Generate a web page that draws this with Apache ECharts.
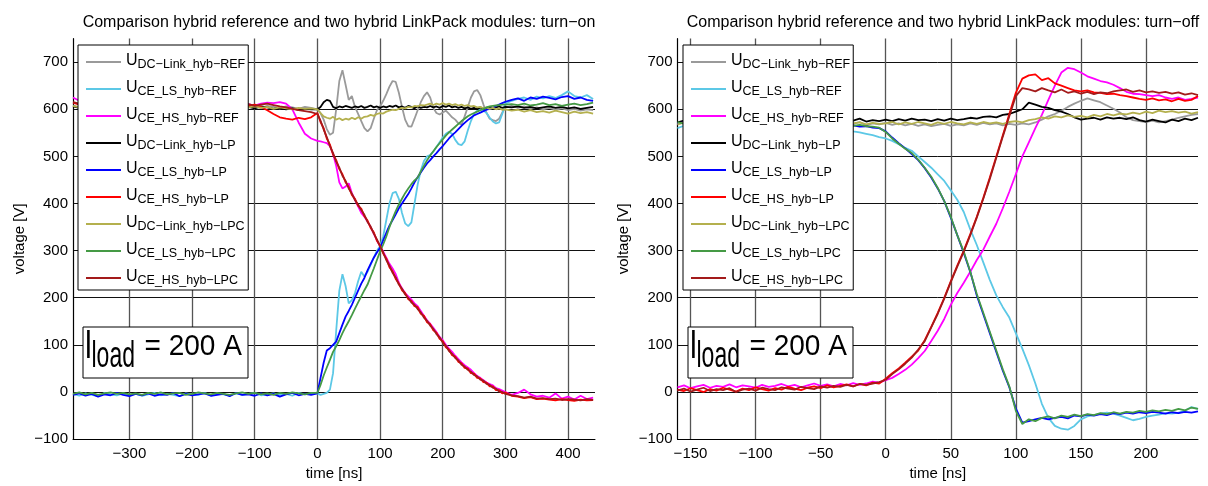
<!DOCTYPE html>
<html>
<head>
<meta charset="utf-8">
<title>turn-on / turn-off comparison</title>
<script src="https://cdn.jsdelivr.net/npm/echarts@6/dist/echarts.min.js"></script>
<style>
  html, body { margin: 0; padding: 0; background: #fff; }
  #main { width: 1208px; height: 486px; }
</style>
</head>
<body>
<div id="main"></div>
<script>
// legend names (shown as subscript of U)
const seriesNames = ['DC−Link_hyb−REF', 'CE_LS_hyb−REF', 'CE_HS_hyb−REF', 'DC−Link_hyb−LP', 'CE_LS_hyb−LP',
  'CE_HS_hyb−LP', 'DC−Link_hyb−LPC', 'CE_LS_hyb−LPC', 'CE_HS_hyb−LPC']
const seriesColors = ['#9a9a9a', '#5cc8e6', '#ff00ff', '#000000', '#0000ff', '#ff0000', '#b4b04e', '#459a45', '#a31a1a']

// ---- turn-on (left) ----
const timeOn = [-390, -380, -370, -360, -350, -340, -330, -320, -310, -300, -290, -280, -270, -260, -250, -240, -230, -220, -210, -200,
  -190, -180, -170, -160, -150, -140, -130, -120, -110, -100, -90, -80, -70, -60, -50, -40, -30, -20, -10,
  0, 5, 10, 15, 20, 25, 30, 35, 40, 45, 50, 55, 60, 65, 70, 75, 80, 85, 90, 95, 100, 105, 110, 115, 120, 125, 130, 135, 140, 145,
  150, 155, 160, 165, 170, 175, 180, 185, 190, 195, 200, 205, 210, 215, 220, 225, 230, 235, 240, 245, 250, 255, 260, 265, 270, 275,
  280, 285, 290, 295, 300, 310, 320, 330, 340, 350, 360, 370, 380, 390, 400, 410, 420, 430, 440]
const dcRefOn = [608, 604, 607, 603, 609, 605, 606, 602, 608, 604, 607, 605, 603, 608, 606, 604, 609, 605, 603, 607,
  606, 604, 608, 605, 607, 603, 606, 609, 604, 606, 603, 607, 605, 602, 606, 604, 601, 605, 603,
  600, 592, 578, 558, 546, 550, 600, 660, 683, 652, 620, 628, 605, 590, 575, 560, 553, 560, 580, 598,
  606, 618, 632, 648, 660, 658, 635, 605, 578, 564, 563, 580, 598, 615, 628, 636, 625, 603, 592, 589,
  593, 597, 590, 583, 578, 570, 568, 585, 605, 625, 638, 641, 630, 610, 592, 580, 577, 575, 580, 593, 604,
  607, 603, 606, 601, 604, 600, 603, 599, 602, 598, 601, 597, 600, 598]
const lsRefOn = [-4, -8, -3, -6, -9, -2, -5, -7, -3, -6, -4, -8, -5, -2, -7, -4, -6, -9, -3, -5,
  -6, -2, -8, -4, -5, -7, -3, -6, -4, -2, -7, -5, -3, -6, -4, -8, -2, -5, -3,
  -3, -6, -4, -2, 5, 40, 130, 215, 250, 225, 188, 195, 210, 235, 255, 245, 255, 270, 285, 300,
  310, 330, 365, 400, 422, 425, 410, 380, 358, 352, 360, 400, 440, 470, 490, 500, 503, 510, 520, 530,
  540, 548, 552, 548, 535, 526, 524, 532, 555, 575, 590, 597, 600, 598, 592, 582, 574, 570, 572, 590, 612,
  618, 622, 625, 620, 627, 623, 628, 624, 630, 638, 628, 625, 630, 622]
const hsRefOn = [625, 618, 614, 617, 612, 615, 610, 614, 611, 608, 613, 609, 612, 607, 611, 608, 613, 609, 606, 611,
  608, 612, 607, 610, 606, 609, 612, 607, 611, 608, 612, 614, 613, 615, 612, 600, 572, 548, 538,
  533, 532, 530, 528, 522, 505, 480, 445, 432, 436, 443, 422, 408, 394, 380, 372, 362, 350, 336, 322,
  309, 298, 285, 272, 262, 250, 232, 220, 210, 203, 196, 188, 182, 172, 162, 152, 145, 136, 127, 117,
  110, 100, 92, 85, 77, 70, 63, 57, 52, 47, 40, 34, 30, 25, 20, 17, 14, 8, 6, 3, 0,
  -6, -2, 5, -5, -10, -8, -12, -3, -14, -10, -16, -8, -15, -12]
const dcLpOn = [606, 603, 607, 604, 608, 605, 602, 606, 604, 607, 603, 605, 608, 604, 606, 602, 605, 607, 603, 606,
  604, 608, 605, 603, 606, 604, 607, 603, 605, 602, 606, 604, 601, 603, 600, 602, 599, 601, 600,
  600, 605, 615, 620, 618, 605, 602, 606, 604, 607, 605, 603, 606, 604, 607, 603, 605, 608, 604, 606,
  603, 606, 604, 607, 605, 608, 604, 606, 603, 607, 605, 602, 606, 603, 605, 604, 607, 604, 606, 603,
  607, 605, 608, 604, 606, 603, 605, 602, 604, 601, 603, 600, 604, 601, 603, 605, 602, 604, 606, 603, 605,
  604, 606, 603, 605, 602, 604, 606, 603, 605, 602, 604, 601, 603, 605]
const lsLpOn = [-6, -3, -8, -4, -10, -5, -7, -2, -6, -9, -4, -7, -3, -8, -5, -6, -2, -9, -4, -7,
  -5, -3, -8, -6, -4, -9, -2, -6, -5, -8, -3, -7, -4, -10, -5, -2, -7, -4, -6,
  -3, 30, 62, 88, 93, 100, 107, 125, 143, 160, 172, 185, 200, 215, 230, 242, 258, 272, 285, 296,
  306, 322, 338, 353, 365, 377, 390, 400, 410, 420, 432, 445, 456, 466, 476, 485, 492, 500, 507, 515,
  522, 530, 538, 545, 551, 558, 565, 571, 577, 582, 587, 590, 593, 596, 599, 601, 603, 607, 610, 613, 616,
  620, 623, 618, 625, 622, 627, 624, 621, 626, 628, 622, 625, 620, 618]
const hsLpOn = [614, 610, 613, 609, 612, 608, 611, 607, 610, 606, 609, 612, 607, 610, 606, 609, 611, 607, 610, 606,
  609, 612, 607, 610, 608, 611, 606, 609, 607, 610, 605, 598, 590, 583, 580, 578, 582, 579, 583,
  592, 573, 560, 538, 525, 504, 492, 473, 462, 445, 435, 418, 410, 395, 389, 373, 364, 348, 339, 321,
  311, 294, 283, 265, 256, 240, 230, 216, 210, 197, 193, 182, 180, 166, 162, 148, 144, 131, 126, 113,
  108, 95, 90, 78, 75, 64, 61, 51, 50, 40, 39, 30, 29, 21, 20, 12, 12, 4, 4, -3, -1,
  -8, -10, -13, -11, -15, -14, -16, -18, -15, -17, -19, -16, -18, -17]
const dcLpcOn = [607, 604, 608, 605, 603, 607, 604, 606, 602, 605, 608, 604, 606, 603, 607, 605, 602, 606, 604, 608,
  605, 603, 606, 604, 607, 603, 605, 608, 604, 606, 603, 605, 601, 604, 602, 600, 603, 601, 602,
  600, 592, 585, 582, 580, 584, 578, 581, 577, 580, 578, 582, 579, 583, 580, 584, 585, 588, 586, 590,
  592, 591, 595, 597, 599, 598, 601, 603, 602, 605, 604, 607, 606, 609, 608, 610, 612, 609, 612, 610,
  613, 610, 612, 609, 611, 608, 610, 607, 609, 606, 607, 604, 605, 602, 604, 601, 603, 600, 602, 599, 600,
  597, 599, 595, 598, 594, 596, 593, 597, 594, 591, 595, 592, 594, 591]
const lsLpcOn = [-4, -1, -5, -2, -6, -3, -1, -4, -2, -5, -3, -6, -2, -4, -1, -5, -3, -2, -6, -4,
  -1, -3, -5, -2, -4, -6, -3, -1, -4, -2, -5, -3, -6, -2, -4, -1, -3, -5, -2,
  -2, 15, 35, 52, 68, 85, 97, 110, 125, 138, 150, 163, 177, 190, 203, 216, 228, 245, 262, 280,
  298, 313, 330, 350, 368, 384, 398, 410, 422, 432, 441, 449, 455, 468, 480, 492, 502, 511, 520, 528,
  536, 544, 551, 557, 563, 569, 575, 580, 585, 589, 592, 595, 598, 601, 604, 606, 607, 608, 609, 610, 610,
  611, 609, 612, 608, 610, 613, 609, 611, 607, 610, 612, 609, 611, 614]
const hsLpcOn = [615, 612, 616, 611, 614, 610, 613, 609, 612, 608, 611, 607, 612, 608, 610, 606, 611, 607, 609, 612,
  608, 610, 606, 609, 612, 607, 610, 608, 611, 607, 610, 612, 609, 606, 604, 601, 598, 596, 594,
  590, 576, 557, 541, 522, 507, 489, 476, 459, 448, 432, 421, 407, 398, 386, 376, 361, 351, 336, 324,
  309, 296, 280, 268, 253, 243, 228, 219, 207, 200, 190, 185, 176, 169, 158, 151, 141, 134, 123, 116,
  105, 98, 87, 81, 72, 67, 58, 54, 47, 43, 36, 33, 26, 24, 17, 15, 9, 7, 1, 0, -4,
  -7, -9, -12, -10, -14, -13, -15, -14, -17, -15, -16, -18, -15, -17]

// ---- turn-off (right) ----
const timeOff = [-160, -155, -150, -145, -140, -135, -130, -125, -120, -115, -110, -105, -100, -95, -90, -85, -80, -75, -70, -65,
  -60, -55, -50, -45, -40, -35, -30, -25, -20, -15, -10, -5,
  0, 5, 10, 15, 20, 25, 30, 35, 40, 45, 50, 55, 60, 65, 70, 75, 80, 85, 90, 95, 100, 105, 110, 115, 120, 125, 130, 135, 140, 145,
  150, 155, 160, 165, 170, 175, 180, 185, 190, 195, 200, 205, 210, 215, 220, 225, 230, 235, 240]
const dcRefOff = [568, 572, 566, 570, 574, 567, 571, 569, 573, 566, 570, 572, 568, 571, 567, 573, 569, 565, 571, 568,
  572, 566, 570, 574, 568, 571, 567, 569, 573, 566, 570, 568,
  571, 567, 570, 566, 569, 565, 568, 564, 567, 569, 565, 568, 566, 570, 567, 571, 568, 570, 566, 569,
  567, 570, 568, 572, 578, 585, 590, 597, 605, 612, 618, 623, 619, 615, 608, 601, 593, 583, 577, 575,
  573, 576, 572, 575, 578, 582, 585, 588, 590]
const lsRefOff = [560, 565, 568, 563, 567, 565, 569, 564, 567, 562, 566, 568, 564, 567, 563, 566, 562, 565, 567, 561,
  564, 562, 565, 560, 563, 558, 556, 553, 551, 548, 545, 541,
  538, 533, 526, 518, 512, 500, 488, 476, 462, 448, 428, 408, 382, 345, 312, 275, 238, 205, 180, 158,
  125, 92, 57, 18, -25, -55, -72, -78, -80, -72, -58, -52, -49, -46, -44, -46, -50, -55, -60, -57,
  -53, -50, -48, -45, -46, -44, -40, -32, -36]
const hsRefOff = [10, 14, 8, 12, 15, 9, 13, 11, 16, 10, 14, 12, 9, 15, 11, 13, 17, 12, 15, 10,
  14, 18, 13, 16, 12, 17, 14, 19, 15, 18, 22, 20,
  25, 30, 38, 47, 58, 72, 87, 108, 130, 155, 185, 210, 232, 255, 280, 302, 330, 357, 390, 425,
  462, 500, 530, 560, 588, 620, 650, 678, 688, 685, 678, 670, 665, 660, 657, 652, 645, 637, 633, 632,
  630, 628, 630, 625, 622, 625, 620, 622, 625]
const dcLpOff = [572, 576, 571, 575, 578, 573, 576, 570, 574, 577, 572, 575, 579, 573, 576, 571, 575, 578, 572, 576,
  574, 579, 573, 577, 575, 578, 572, 576, 580, 574, 577, 575,
  578, 575, 579, 576, 580, 577, 578, 575, 579, 576, 580, 577, 579, 582, 580, 584, 585, 583, 588, 590,
  595, 600, 614, 610, 605, 603, 598, 595, 590, 583, 578, 580, 582, 578, 583, 580, 582, 579, 583, 577,
  574, 578, 575, 572, 578, 575, 580, 577, 582]
const lsLpOff = [570, 572, 568, 571, 573, 569, 572, 570, 574, 568, 571, 573, 569, 572, 570, 567, 571, 573, 569, 572,
  568, 570, 567, 569, 566, 568, 565, 566, 563, 564, 561, 560,
  553, 540, 528, 517, 505, 492, 475, 455, 432, 405, 370, 333, 295, 255, 205, 165, 125, 85, 45, 10,
  -35, -65, -62, -58, -55, -58, -55, -53, -56, -50, -52, -48, -50, -47, -49, -45, -47, -44, -46, -43,
  -45, -42, -44, -46, -43, -45, -42, -44, -41]
const hsLpOff = [5, 2, 8, 4, 0, 6, 3, 9, 5, 1, 7, 4, 10, 6, 3, 8, 5, 11, 7, 4,
  9, 12, 8, 14, 10, 13, 16, 12, 17, 14, 20, 18,
  28, 40, 50, 62, 75, 88, 110, 138, 168, 200, 235, 268, 300, 335, 372, 412, 455, 500, 545, 590,
  635, 665, 672, 674, 662, 666, 655, 650, 645, 640, 638, 640, 636, 635, 632, 633, 630, 628, 625, 622,
  620, 623, 619, 621, 617, 622, 618, 620, 628]
const dcLpcOff = [568, 572, 566, 570, 573, 567, 571, 565, 569, 572, 566, 570, 568, 573, 567, 571, 569, 566, 572, 568,
  570, 574, 567, 571, 569, 573, 566, 570, 572, 568, 571, 569,
  570, 573, 568, 572, 569, 573, 570, 567, 572, 569, 573, 570, 568, 572, 569, 573, 570, 572, 569, 573,
  575, 572, 577, 579, 583, 580, 585, 583, 587, 584, 586, 583, 588, 585, 590, 587, 591, 589, 593, 590,
  595, 592, 597, 594, 596, 593, 595, 591, 594]
const lsLpcOff = [573, 569, 572, 575, 570, 573, 568, 571, 574, 569, 572, 570, 574, 568, 572, 569, 573, 567, 571, 569,
  572, 566, 570, 568, 571, 566, 569, 565, 567, 564, 563, 561,
  552, 538, 527, 516, 507, 493, 476, 457, 433, 405, 372, 333, 298, 255, 208, 168, 128, 88, 48, 12,
  -40, -68, -58, -62, -55, -52, -56, -50, -53, -48, -51, -47, -49, -45, -47, -43, -46, -42, -44, -40,
  -42, -39, -41, -38, -40, -36, -39, -33, -36]
const hsLpcOff = [3, 7, 1, 5, 9, 2, 6, 4, 8, 0, 5, 7, 3, 9, 6, 4, 10, 7, 5, 11,
  8, 6, 12, 9, 13, 11, 15, 12, 17, 15, 18, 21,
  26, 38, 48, 60, 73, 90, 108, 137, 166, 198, 233, 266, 298, 333, 370, 410, 452, 497, 542, 585,
  628, 645, 642, 638, 645, 640, 636, 642, 635, 638, 633, 637, 632, 636, 634, 638, 640, 642, 637, 640,
  636, 638, 635, 637, 633, 636, 631, 634, 630]

const titlesText = ['Comparison hybrid reference and two hybrid LinkPack modules: turn−on',
  'Comparison hybrid reference and two hybrid LinkPack modules: turn−off']

const FONT = '"Liberation Sans", Arial, Helvetica, sans-serif'
const minus = v => String(v).replace('-', '−')

const onSets = [dcRefOn, lsRefOn, hsRefOn, dcLpOn, lsLpOn, hsLpOn, dcLpcOn, lsLpcOn, hsLpcOn]
const offSets = [dcRefOff, lsRefOff, hsRefOff, dcLpOff, lsLpOff, hsLpOff, dcLpcOff, lsLpcOff, hsLpcOff]

function pairs (ts, vs) {
  return ts.map((t, i) => [t, vs[i]])
}

function xAxisFor (idx, min, max, split) {
  return {
    type: 'value', gridIndex: idx, min: min, max: max, splitNumber: split,
    name: 'time [ns]', nameLocation: 'middle', nameGap: 22,
    nameTextStyle: { fontSize: 15, color: '#000', fontFamily: FONT },
    axisLine: { onZero: false, lineStyle: { color: '#000', width: 1 } },
    axisTick: { show: false },
    axisLabel: { showMinLabel: false, showMaxLabel: false, fontSize: 15, color: '#000', fontFamily: FONT, margin: 7, formatter: minus },
    splitLine: { show: true, showMaxLine: false, lineStyle: { color: '#555', width: 1.3 } }
  }
}

function yAxisFor (idx) {
  return {
    type: 'value', gridIndex: idx, min: -100, max: 750, interval: 100,
    name: 'voltage [V]', nameLocation: 'middle', nameGap: 46, nameRotate: 90,
    nameTextStyle: { fontSize: 15, color: '#000', fontFamily: FONT },
    axisLine: { show: true, onZero: false, lineStyle: { color: '#000', width: 1 } },
    axisTick: { show: false },
    axisLabel: { showMaxLabel: false, fontSize: 15, color: '#000', fontFamily: FONT, margin: 5, formatter: minus },
    splitLine: { show: true, showMaxLine: false, lineStyle: { color: '#111', width: 1 } }
  }
}

function legendFor (left) {
  return {
    orient: 'vertical', left: left, top: 45,
    padding: [3, 3, 3, 8], itemGap: 4, itemWidth: 35, itemHeight: 2, icon: 'rect',
    borderColor: '#000', borderWidth: 1, backgroundColor: '#fff',
    data: seriesNames,
    formatter: n => '{u|U}{s|' + n + '}',
    textStyle: {
      color: '#000', fontFamily: FONT,
      rich: {
        u: { fontSize: 16, lineHeight: 18, verticalAlign: 'top', fontFamily: FONT, color: '#000' },
        s: { fontSize: 12.5, lineHeight: 14, verticalAlign: 'bottom', padding: [10, 0, 0, 0], fontFamily: FONT, color: '#000' }
      }
    }
  }
}

// I_load box, dx shifts to the right chart
function loadBox (dx) {
  return [
    { type: 'rect', z: 100, shape: { x: 83 + dx, y: 327, width: 165, height: 51 }, style: { fill: '#fff', stroke: '#000', lineWidth: 1 } },
    { type: 'text', z: 101, x: 84.5 + dx, y: 346.5, scaleY: 1.45,
      style: { text: 'I', font: '28px ' + FONT, fill: '#000', verticalAlign: 'middle' } },
    { type: 'text', z: 101, x: 91.5 + dx, y: 357, scaleY: 1.6,
      style: { text: 'load', font: '23px ' + FONT, fill: '#000', verticalAlign: 'middle' } },
    { type: 'text', z: 101, x: 144.5 + dx, y: 346.5, scaleY: 1.07,
      style: { text: '= 200 A', font: '28px ' + FONT, fill: '#000', verticalAlign: 'middle' } }
  ]
}

const series = []
seriesNames.forEach((n, i) => {
  series.push({
    name: n, type: 'line', xAxisIndex: 0, yAxisIndex: 0, data: pairs(timeOn, onSets[i]),
    symbol: 'none', lineStyle: { color: seriesColors[i], width: 1.8 }, itemStyle: { color: seriesColors[i] }
  })
  series.push({
    name: n, type: 'line', xAxisIndex: 1, yAxisIndex: 1, data: pairs(timeOff, offSets[i]),
    symbol: 'none', lineStyle: { color: seriesColors[i], width: 1.8 }, itemStyle: { color: seriesColors[i] }
  })
})

const chart = echarts.init(document.getElementById('main'))
chart.setOption({
  animation: false,
  backgroundColor: '#fff',
  title: [
    { text: titlesText[0], left: 334, top: 10, textAlign: 'center', textStyle: { fontSize: 16, fontWeight: 'normal', color: '#000', fontFamily: FONT } },
    { text: titlesText[1], left: 938, top: 10, textAlign: 'center', textStyle: { fontSize: 16, fontWeight: 'normal', color: '#000', fontFamily: FONT } }
  ],
  grid: [
    { left: 73, top: 38.6, width: 522, height: 410.7 },
    { left: 677.5, top: 38.6, width: 520.5, height: 410.7 }
  ],
  xAxis: [xAxisFor(0, -390, 443, 8), xAxisFor(1, -160, 240, 8)],
  yAxis: [yAxisFor(0), yAxisFor(1)],
  legend: [legendFor(78), legendFor(683)],
  graphic: loadBox(0).concat(loadBox(605)),
  series: series
})
</script>
</body>
</html>
